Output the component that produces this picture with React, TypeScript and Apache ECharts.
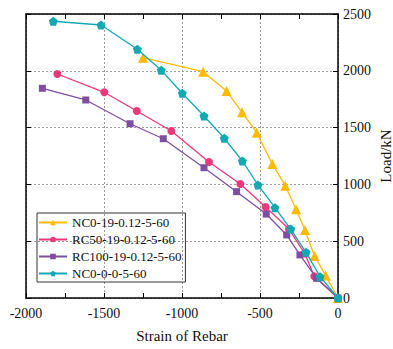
import React, { useEffect, useRef } from "react";
import * as echarts from "echarts";

const seriesNames = ["NC0-19-0.12-5-60", "RC50-19-0.12-5-60", "RC100-19-0.12-5-60", "NC0-0-0-5-60"];

const nc019Strain = [0, -79, -150, -212, -269, -338, -421, -521, -615, -714, -865, -1250];
const nc019Load = [0, 197, 370, 599, 781, 989, 1180, 1455, 1635, 1822, 1992, 2115];

const rc50Strain = [0, -152, -214, -314, -464, -626, -827, -1068, -1290, -1498, -1799];
const rc50Load = [0, 191, 393, 607, 801, 1004, 1197, 1470, 1646, 1811, 1972];

const rc100Strain = [0, -137, -244, -329, -460, -650, -859, -1120, -1333, -1617, -1895];
const rc100Load = [0, 173, 379, 555, 739, 936, 1147, 1402, 1534, 1743, 1846];

const nc00Strain = [0, -115, -205, -303, -404, -513, -613, -729, -859, -998, -1133, -1286, -1519, -1825];
const nc00Load = [0, 188, 402, 607, 795, 995, 1206, 1406, 1602, 1802, 2004, 2189, 2403, 2436];

const FONT = "'Liberation Serif', 'Times New Roman', serif";
const PENTAGON = "path://M0,-1 L0.951,-0.309 L0.588,0.809 L-0.588,0.809 L-0.951,-0.309 Z";

const zip = (xs: number[], ys: number[]) => xs.map((x, i) => [x, ys[i]]);

export default function App() {
  const ref = useRef<HTMLDivElement>(null);
  useEffect(() => {
    if (!ref.current) return;
    const chart = echarts.init(ref.current, undefined, { renderer: "svg" });
    const colors = ["#FFBA00", "#E83A7A", "#7E4FA0", "#12A9B3"];
    const symbols = ["triangle", "circle", "rect", PENTAGON];
    const sizes = [10, 8, 7, 9];
    const datasets = [
      zip(nc019Strain, nc019Load),
      zip(rc50Strain, rc50Load),
      zip(rc100Strain, rc100Load),
      zip(nc00Strain, nc00Load),
    ];
    const plain = (v: number) => String(v);
    const axisLine = { show: true, onZero: false, lineStyle: { color: "#000", width: 1.5 } };
    const tickIn = { show: true, inside: true, length: 5, lineStyle: { color: "#000", width: 1 } };
    const splitLine = { show: true, lineStyle: { color: "#9a9a9a", type: [2, 2] as any, width: 1 } };
    chart.setOption({
      animation: false,
      grid: { left: 26, right: 55, top: 14, bottom: 51, containLabel: false, outerBoundsMode: "none" },
      legend: {
        orient: "vertical",
        left: 37,
        top: 213,
        padding: [2, 4, 1, 1],
        itemGap: 2,
        itemWidth: 28,
        itemHeight: 7,
        borderColor: "#333",
        borderWidth: 1,
        borderRadius: 0,
        textStyle: { fontFamily: FONT, fontSize: 13, color: "#111", lineHeight: 15 },
        data: seriesNames,
      },
      xAxis: [
        {
          type: "value",
          position: "bottom",
          min: -2000,
          max: 0,
          interval: 500,
          axisLine,
          axisTick: tickIn,
          minorTick: { show: true, splitNumber: 2, length: 5, lineStyle: { color: "#000", width: 1 } },
          splitLine,
          axisLabel: { fontFamily: FONT, fontSize: 14, color: "#111", margin: 8, formatter: plain },
          name: "Strain of Rebar",
          nameLocation: "middle",
          nameGap: 30,
          nameTextStyle: { fontFamily: FONT, fontSize: 15, color: "#111" },
        },
        {
          type: "value",
          position: "top",
          min: -2000,
          max: 0,
          interval: 500,
          axisLine,
          axisTick: tickIn,
          minorTick: { show: true, splitNumber: 2, length: 5, lineStyle: { color: "#000", width: 1 } },
          splitLine: { show: false },
          axisLabel: { show: false },
        },
      ],
      yAxis: [
        {
          type: "value",
          position: "right",
          min: 0,
          max: 2500,
          interval: 500,
          axisLine,
          axisTick: tickIn,
          splitLine,
          axisLabel: { fontFamily: FONT, fontSize: 14, color: "#111", margin: 5, formatter: plain },
          name: "Load/kN",
          nameLocation: "middle",
          nameGap: 40,
          nameRotate: 90,
          nameMoveOverlap: false,
          nameTextStyle: { fontFamily: FONT, fontSize: 15, color: "#111" },
        },
        {
          type: "value",
          position: "left",
          min: 0,
          max: 2500,
          interval: 500,
          axisLine,
          axisTick: tickIn,
          splitLine: { show: false },
          axisLabel: { show: false },
        },
      ],
      series: datasets.map((d, i) => ({
        name: seriesNames[i],
        type: "line",
        data: d,
        xAxisIndex: 0,
        yAxisIndex: 0,
        symbol: symbols[i],
        symbolSize: sizes[i],
        showAllSymbol: true,
        clip: false,
        color: colors[i],
        lineStyle: { color: colors[i], width: 1.3 },
        itemStyle: { color: colors[i] },
        z: 2 + i,
      })),
    });
    return () => chart.dispose();
  }, []);
  return <div ref={ref} style={{ position: "absolute", left: 0, top: 0, width: 393, height: 349 }} />;
}
